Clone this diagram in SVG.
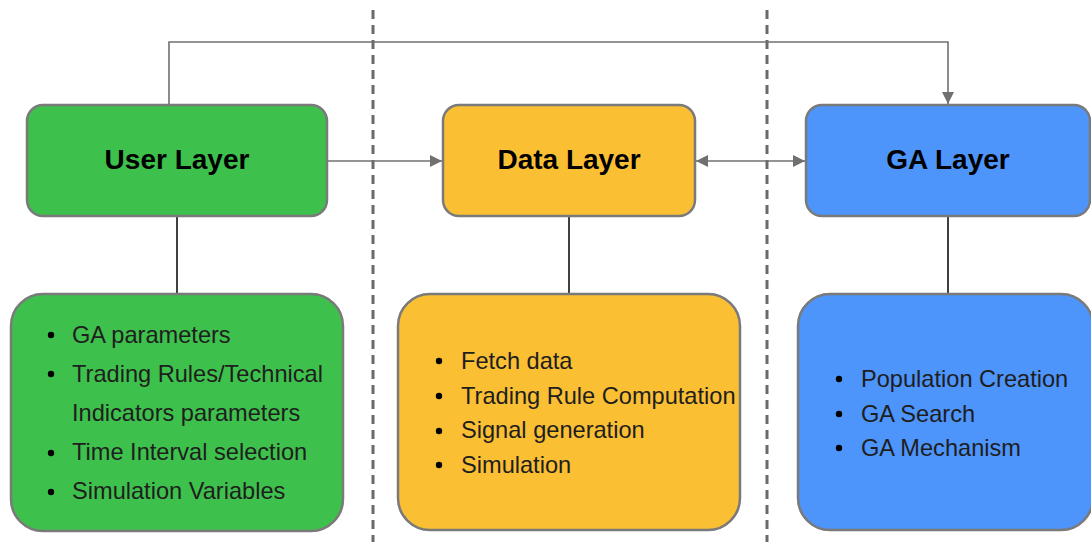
<svg xmlns="http://www.w3.org/2000/svg" width="1091" height="542" viewBox="0 0 1091 542">
  <style>
    .box { stroke: #7a7a7a; stroke-width: 2.5; }
    .user { fill: #3ec04c; }
    .data { fill: #fbbf34; }
    .ga { fill: #4d94fb; }
    .title { font-family: "Liberation Sans", Arial, sans-serif; font-weight: bold; font-size: 28px; fill: #000; text-anchor: middle; }
    .item { font-family: "Liberation Sans", Arial, sans-serif; font-size: 23.6px; fill: #1e1e1e; }
    .dot { fill: #000; }
    .sep { stroke: #6a6a6a; stroke-width: 3; stroke-dasharray: 9 6; fill: none; }
    .flow { stroke: #707070; stroke-width: 1.6; fill: none; }
    .stem { stroke: #111; stroke-width: 1.6; fill: none; }
  </style>
  <defs>
    <marker id="arrow" viewBox="0 0 12 12" refX="12" refY="6" markerWidth="12" markerHeight="12" markerUnits="userSpaceOnUse" orient="auto-start-reverse">
      <path d="M0,0 L12,6 L0,12 z" fill="#707070"/>
    </marker>
  </defs>

  <rect width="1091" height="542" fill="#ffffff"/>

  <!-- column separators -->
  <g id="separators">
    <line class="sep" x1="373" y1="10" x2="373" y2="542"/>
    <line class="sep" x1="767" y1="10" x2="767" y2="542"/>
  </g>

  <!-- connectors -->
  <g id="connectors">
    <path class="flow" d="M169,105 V42 H948 V104" marker-end="url(#arrow)"/>
    <path class="flow" d="M328,161 H442" marker-end="url(#arrow)"/>
    <path class="flow" d="M696,161 H805" marker-start="url(#arrow)" marker-end="url(#arrow)"/>
    <path class="stem" d="M177,216 V294"/>
    <path class="stem" d="M569,216 V294"/>
    <path class="stem" d="M948,216 V294"/>
  </g>

  <!-- layer headers -->
  <g id="user-layer">
    <rect class="box user" x="27" y="105" width="300" height="111" rx="16"/>
    <text class="title" x="177" y="169">User Layer</text>
  </g>
  <g id="data-layer">
    <rect class="box data" x="443" y="105" width="252" height="111" rx="16"/>
    <text class="title" x="569" y="169">Data Layer</text>
  </g>
  <g id="ga-layer">
    <rect class="box ga" x="806" y="105" width="284" height="111" rx="16"/>
    <text class="title" x="948" y="169">GA Layer</text>
  </g>

  <!-- layer details -->
  <g id="user-details">
    <rect class="box user" x="11" y="294" width="332" height="237" rx="32"/>
    <circle class="dot" cx="51" cy="335" r="3.2"/>
    <circle class="dot" cx="51" cy="374" r="3.2"/>
    <circle class="dot" cx="51" cy="453" r="3.2"/>
    <circle class="dot" cx="51" cy="492" r="3.2"/>
    <text class="item" x="72" y="343">GA parameters</text>
    <text class="item" x="72" y="382">Trading Rules/Technical</text>
    <text class="item" x="72" y="421">Indicators parameters</text>
    <text class="item" x="72" y="460">Time Interval selection</text>
    <text class="item" x="72" y="499">Simulation Variables</text>
  </g>
  <g id="data-details">
    <rect class="box data" x="398" y="294" width="342" height="236" rx="32"/>
    <circle class="dot" cx="439" cy="361" r="3.2"/>
    <circle class="dot" cx="439" cy="396" r="3.2"/>
    <circle class="dot" cx="439" cy="431" r="3.2"/>
    <circle class="dot" cx="439" cy="465" r="3.2"/>
    <text class="item" x="461" y="369">Fetch data</text>
    <text class="item" x="461" y="404">Trading Rule Computation</text>
    <text class="item" x="461" y="438">Signal generation</text>
    <text class="item" x="461" y="473">Simulation</text>
  </g>
  <g id="ga-details">
    <rect class="box ga" x="798" y="294" width="295" height="236" rx="32"/>
    <circle class="dot" cx="839" cy="379" r="3.2"/>
    <circle class="dot" cx="839" cy="414" r="3.2"/>
    <circle class="dot" cx="839" cy="448" r="3.2"/>
    <text class="item" x="861" y="387">Population Creation</text>
    <text class="item" x="861" y="422">GA Search</text>
    <text class="item" x="861" y="456">GA Mechanism</text>
  </g>
</svg>
